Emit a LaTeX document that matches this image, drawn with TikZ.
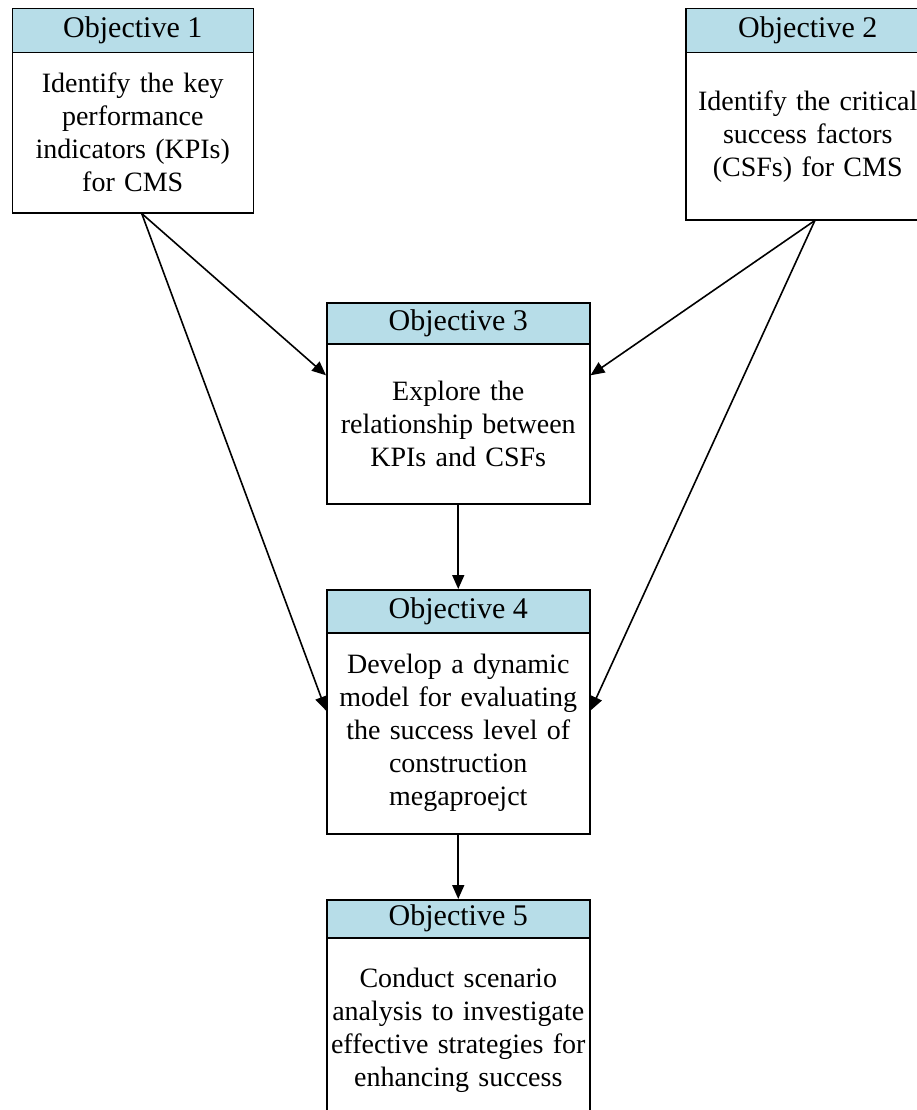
\documentclass[tikz,border=0pt]{standalone}
\usepackage{fontspec}
\setmainfont{Liberation Serif}[Ligatures=CommonOff]
\usetikzlibrary{arrows.meta,calc}
\definecolor{hdrblue}{HTML}{B7DDE8}
\begin{document}
\begin{tikzpicture}[x=1pt,y=-1pt,
  hdr/.style={draw=black, line width=1.5pt, fill=hdrblue, anchor=north west,
    inner sep=0pt, font=\fontsize{30}{34}\selectfont},
  body/.style={draw=black, line width=1.5pt, fill=white, anchor=north west,
    inner sep=0pt, align=center, font=\fontsize{28}{33}\selectfont},
  arr/.style={line width=1.6pt, -{Triangle[length=14pt,width=12pt]}}]
\useasboundingbox (0,0) rectangle (917,1110);
\clip (0,0) rectangle (917,1110);

% Objective 1
\node[hdr, minimum width=241pt, minimum height=44pt] (h1) at (11.5,8) {Objective 1};
\node[body, minimum width=241pt, minimum height=160pt, text width=241pt] (b1) at (11.5,52)
  {Identify the key\\performance\\indicators (KPIs)\\for CMS};

% Objective 2
\node[hdr, minimum width=244pt, minimum height=44pt] (h2) at (685,8) {Objective 2};
\node[body, minimum width=244pt, minimum height=167pt, text width=244pt] (b2) at (685,52)
  {Identify the critical\\success factors\\(CSFs) for CMS};

% Objective 3
\node[hdr, minimum width=263pt, minimum height=41pt] (h3) at (326,302) {Objective 3};
\node[body, minimum width=263pt, minimum height=160pt, text width=263pt] (b3) at (326,343)
  {Explore the\\relationship between\\KPIs and CSFs};

% Objective 4
\node[hdr, minimum width=263pt, minimum height=43pt] (h4) at (326,589) {Objective 4};
\node[body, minimum width=263pt, minimum height=201pt, text width=263pt] (b4) at (326,632)
  {Develop a dynamic\\model for evaluating\\the success level of\\construction\\megaproejct};

% Objective 5
\node[hdr, minimum width=263pt, minimum height=38pt] (h5) at (326,899) {Objective 5};
\node[body, minimum width=263pt, minimum height=185pt, text width=263pt] (b5) at (326,937)
  {Conduct scenario\\analysis to investigate\\effective strategies for\\enhancing success};

% Connectors
\draw[arr] ($(b1.south west)!0.537!(b1.south east)$) -- ($(b3.north west)!0.2!(b3.south west)$);
\draw[arr] ($(b1.south west)!0.537!(b1.south east)$) -- ($(b4.north west)!0.388!(b4.south west)$);
\draw[arr] ($(b2.south west)!0.529!(b2.south east)$) -- ($(b3.north east)!0.2!(b3.south east)$);
\draw[arr] ($(b2.south west)!0.529!(b2.south east)$) -- ($(b4.north east)!0.388!(b4.south east)$);
\draw[arr] (b3.south) -- (h4.north);
\draw[arr] (b4.south) -- (h5.north);
\end{tikzpicture}
\end{document}
